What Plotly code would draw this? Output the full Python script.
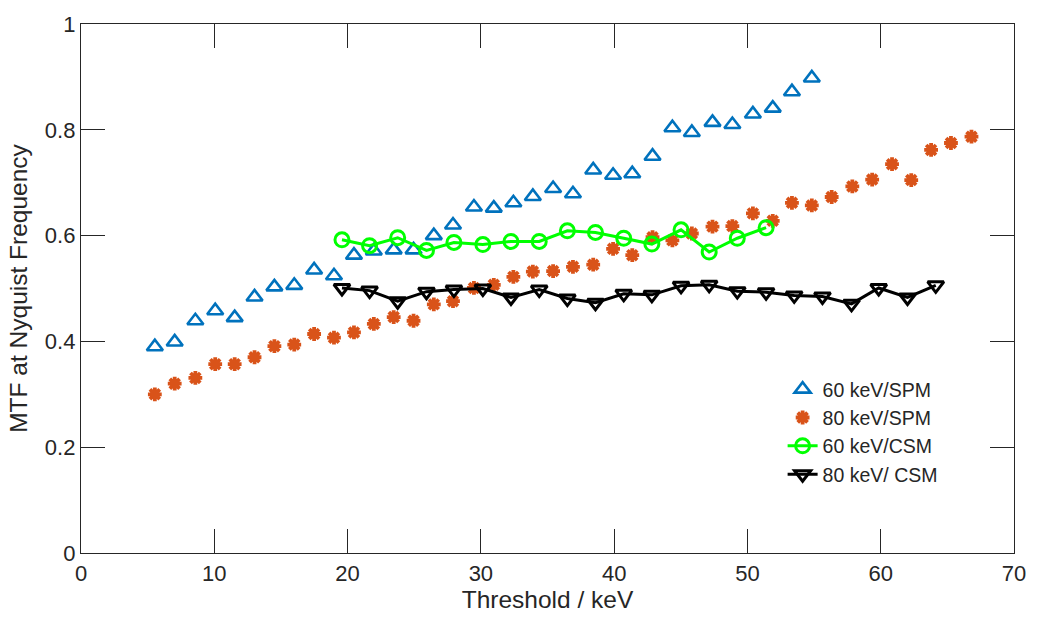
import plotly.graph_objects as go

# Thresholds (keV) for SPM measurements
spm_threshold = [5.54, 7.03, 8.58, 10.07, 11.53, 13.02, 14.51, 16.00, 17.49, 18.98,
                 20.48, 21.97, 23.46, 24.95, 26.47, 27.91, 29.48, 30.97, 32.44, 33.90,
                 35.42, 36.91, 38.43, 39.92, 41.36, 42.88, 44.37, 45.83, 47.38, 48.87,
                 50.41, 51.90, 53.34, 54.83, 56.32, 57.87, 59.36, 60.85, 62.29, 63.78,
                 65.27, 66.81]

mtf_60_spm = [0.390, 0.399, 0.439, 0.458, 0.445, 0.484, 0.503, 0.506, 0.535, 0.524,
              0.563, 0.571, 0.573, 0.573, 0.600, 0.620, 0.654, 0.652, 0.662, 0.674,
              0.689, 0.679, 0.724, 0.714, 0.717, 0.750, 0.804, 0.795, 0.814, 0.810,
              0.830, 0.841, 0.872, 0.898]

mtf_80_spm = [0.300, 0.320, 0.331, 0.357, 0.357, 0.370, 0.391, 0.394, 0.414, 0.407,
              0.417, 0.433, 0.446, 0.439, 0.470, 0.476, 0.501, 0.507, 0.522, 0.532,
              0.533, 0.541, 0.545, 0.575, 0.563, 0.597, 0.591, 0.604, 0.617, 0.618,
              0.642, 0.628, 0.662, 0.657, 0.673, 0.693, 0.706, 0.735, 0.705, 0.762,
              0.775, 0.787]

# Thresholds (keV) for CSM measurements
csm_threshold = [19.58, 21.65, 23.76, 25.92, 27.98, 30.15, 32.26, 34.38, 36.49, 38.60,
                 40.72, 42.83, 45.02, 47.13, 49.24, 51.40, 53.51, 55.63, 57.81, 59.85,
                 62.01, 64.13]

mtf_60_csm = [0.592, 0.581, 0.596, 0.572, 0.587, 0.583, 0.589, 0.589, 0.609, 0.606,
              0.595, 0.584, 0.611, 0.569, 0.595, 0.615]

mtf_80_csm = [0.501, 0.496, 0.476, 0.494, 0.498, 0.500, 0.483, 0.498, 0.481, 0.473,
              0.490, 0.488, 0.505, 0.507, 0.495, 0.493, 0.487, 0.485, 0.471, 0.501,
              0.483, 0.506]

x_ticks = [0, 10, 20, 30, 40, 50, 60, 70]
y_ticks = [0, 0.2, 0.4, 0.6, 0.8, 1]

TXT = "#262626"
FONT = "Liberation Sans, Arial, sans-serif"

fig = go.Figure()
fig.add_trace(go.Scatter(
    x=spm_threshold[:len(mtf_60_spm)], y=mtf_60_spm, mode="markers", name="60 keV/SPM",
    marker=dict(symbol="triangle-up-open", size=14, color="#0072BD",
                line=dict(width=2.6, color="#0072BD"))))
fig.add_trace(go.Scatter(
    x=spm_threshold, y=mtf_80_spm, mode="markers", name="80 keV/SPM",
    marker=dict(symbol="asterisk-open", size=11.5, color="#D95319",
                line=dict(width=3.8, color="#D95319"))))
fig.add_trace(go.Scatter(
    x=csm_threshold[:len(mtf_60_csm)], y=mtf_60_csm, mode="lines+markers", name="60 keV/CSM",
    line=dict(color="#00FF00", width=3),
    marker=dict(symbol="circle-open", size=14, color="#00FF00",
                line=dict(width=3, color="#00FF00"))))
fig.add_trace(go.Scatter(
    x=csm_threshold, y=mtf_80_csm, mode="lines+markers", name="80 keV/ CSM",
    line=dict(color="#000000", width=3),
    marker=dict(symbol="triangle-down-open", size=14, color="#000000",
                line=dict(width=3, color="#000000"))))

axis_common = dict(
    showgrid=False, zeroline=False, showline=True, linecolor=TXT, linewidth=1.3,
    mirror="ticks", ticks="inside", ticklen=24, tickwidth=1.3, tickcolor=TXT,
    tickfont=dict(family=FONT, size=22, color=TXT),
)

fig.update_layout(
    width=1038, height=626,
    margin=dict(l=80.7, r=18.7, t=14.3, b=72.7),
    paper_bgcolor="white", plot_bgcolor="white",
    font=dict(family=FONT, color=TXT),
    xaxis=dict(range=[0, 70], tickvals=x_ticks,
               title=dict(text="Threshold / keV", font=dict(family=FONT, size=24.5, color=TXT), standoff=6),
               **axis_common),
    yaxis=dict(range=[0, 1], tickvals=y_ticks,
               title=dict(text="MTF at Nyquist Frequency", font=dict(family=FONT, size=24.5, color=TXT), standoff=10),
               **axis_common),
    legend=dict(x=0.752, y=0.346, xanchor="left", yanchor="top",
                bgcolor="rgba(0,0,0,0)", borderwidth=0,
                font=dict(family=FONT, size=19.5, color=TXT),
                itemwidth=30, tracegroupgap=0),
    showlegend=True,
)

# remove the default 8px page margin so the figure fills the window exactly
fig.write_html("out.html", config={"displayModeBar": False},
               post_script="document.body.style.margin='0';")
